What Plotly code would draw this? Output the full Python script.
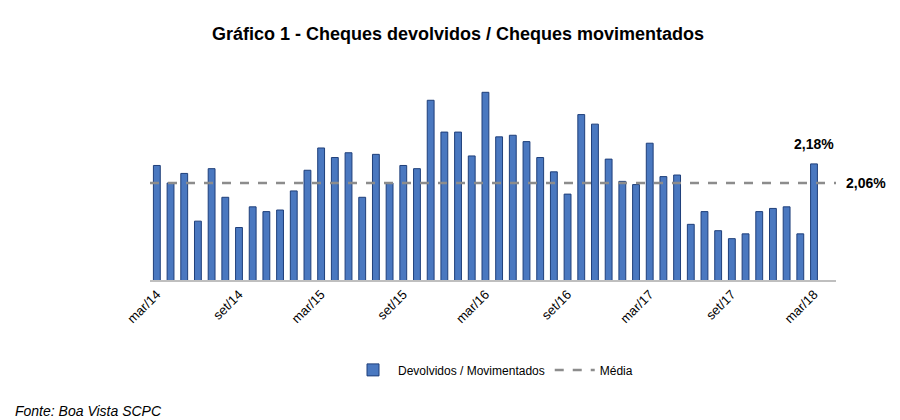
import plotly.graph_objects as go

month_names = ["mar", "abr", "mai", "jun", "jul", "ago", "set", "out", "nov", "dez", "jan", "fev"]
months = []
for i in range(49):
    m = month_names[i % 12]
    yr = 14 + (i + 2) // 12
    months.append(f"{m}/{yr}")
values = [2.17, 2.06, 2.12, 1.82, 2.15, 1.97, 1.78, 1.91, 1.88, 1.89, 2.01, 2.14,
          2.28, 2.22, 2.25, 1.97, 2.24, 2.06, 2.17, 2.15, 2.58, 2.38, 2.38, 2.23,
          2.63, 2.35, 2.36, 2.32, 2.22, 2.13, 1.99, 2.49, 2.43, 2.21, 2.07, 2.05,
          2.31, 2.10, 2.11, 1.80, 1.88, 1.76, 1.71, 1.74, 1.88, 1.90, 1.91, 1.74, 2.18]
media = 2.06
tick_labels = months[::6]

fig = go.Figure()
fig.add_trace(go.Bar(x=months, y=values, name="Devolvidos / Movimentados",
                     marker=dict(color="#4a78c0", line=dict(color="#1f3f7a", width=1))))
fig.add_trace(go.Scatter(x=[None], y=[None], mode="lines", name="Média",
                         line=dict(color="#8c8c8c", width=2.5, dash="dash")))
fig.add_shape(type="line", xref="paper", x0=0, x1=1, yref="y", y0=media, y1=media,
              line=dict(color="#8c8c8c", width=2.5, dash="dash"))
fig.add_annotation(x=months[-1], y=values[-1], text="<b>2,18%</b>", showarrow=False,
                   yshift=20, font=dict(size=14, color="black"))
fig.add_annotation(xref="paper", x=1.0, y=media, text="<b>2,06%</b>", showarrow=False,
                   xanchor="left", xshift=8, font=dict(size=14, color="black"))
fig.update_layout(
    width=900, height=420, plot_bgcolor="white", paper_bgcolor="white",
    font=dict(family="Arial, Liberation Sans", color="black"),
    title=dict(text="<b>Gráfico 1 - Cheques devolvidos / Cheques movimentados</b>",
               x=0.5, xanchor="center", y=0.955, font=dict(size=18)),
    margin=dict(l=142, r=72, t=70, b=148, autoexpand=False),
    bargap=0.5, showlegend=True,
    legend=dict(orientation="h", x=0.5, xanchor="center", y=-0.445, yanchor="middle",
                font=dict(size=12), itemwidth=40, tracegroupgap=80),
    xaxis=dict(tickmode="array", tickvals=tick_labels, ticktext=tick_labels,
               tickangle=-45, tickfont=dict(size=13), showline=True,
               linecolor="#bfbfbf", linewidth=1.5, showgrid=False, automargin=False),
    yaxis=dict(range=[1.45, 2.72], visible=False, showgrid=False),
)
fig.add_annotation(xref="paper", yref="paper", x=-0.2, y=-0.65, text="<i>Fonte: Boa Vista SCPC</i>",
                   showarrow=False, xanchor="left", yanchor="middle", font=dict(size=14))
fig.write_html("out.html")
